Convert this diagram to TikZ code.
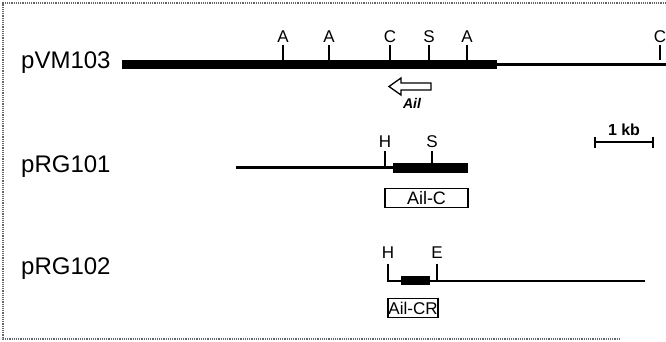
\documentclass[tikz,border=0pt]{standalone}
\usepackage{fontspec}
\setmainfont{Liberation Sans}
\begin{document}
\begin{tikzpicture}[x=1pt,y=-1pt,
  plasmid/.style={font=\fontsize{24}{26}\selectfont, anchor=west, inner sep=0pt},
  site/.style={font=\fontsize{17}{19}\selectfont, inner sep=0pt},
  vector/.style={line width=2.4pt},
  insert/.style={line width=9.5pt},
  tickmark/.style={line width=1.4pt},
  genebox/.style={draw, line width=1.1pt, inner sep=0pt, minimum height=19pt},
  frame/.style={black!60, line width=1.2pt, densely dotted}]
\useasboundingbox (0,0) rectangle (666,342);

% dotted frame (open on the right)
\draw[frame] (666,3) -- (3,3) -- (3,339) -- (620,339);

% ---------- pVM103 ----------
\node[plasmid] (lab1) at (21,63) {pVM103};
\coordinate (v1a) at (122,64.5);
\coordinate (v1b) at (497,64.5);
\coordinate (v1c) at (666,64.5);
\draw[insert] (v1a) -- (v1b);
\draw[vector] (v1b) -- (v1c);
\foreach \nm/\xx/\lt in {a1/283/A, a2/329/A, c1/390/C, s1/429/S, a3/467/A, c2/660/C}{
  \coordinate (t\nm) at (\xx,60);
  \node[site] (l\nm) at (\xx,37) {\lt};
  \draw[tickmark] (t\nm) -- (\xx,45);
}
% Ail gene direction arrow
\draw[line width=1.3pt, line join=miter]
  (389,86.5) -- (401,78) -- (401,83) -- (431,83) -- (431,90) -- (401,90) -- (401,95) -- cycle;
\node[font=\fontsize{14}{16}\selectfont\bfseries\itshape, inner sep=0pt] (ail) at (412,103) {Ail};

% scale bar
\coordinate (sb1) at (595,142);
\coordinate (sb2) at (653,142);
\draw[line width=1.8pt] (sb1) -- (sb2);
\draw[line width=1.8pt] (595,136.5) -- (595,147.5) (653,136.5) -- (653,147.5);
\node[font=\fontsize{16}{18}\selectfont\bfseries, inner sep=0pt] (kb) at (624,130) {1 kb};

% ---------- pRG101 ----------
\node[plasmid] (lab2) at (21,167) {pRG101};
\coordinate (v2a) at (236,167.5);
\coordinate (v2b) at (393,167.5);
\coordinate (v2c) at (468,168);
\draw[vector] (v2a) -- (v2b);
\draw[insert] (393,168) -- (v2c);
\coordinate (h2) at (385,166);
\draw[tickmark] (h2) -- (385,151);
\node[site] (lh2) at (385,142) {H};
\coordinate (s2) at (432,163);
\draw[tickmark] (s2) -- (432,151);
\node[site] (ls2) at (432,142) {S};
\node[genebox, minimum width=83pt, font=\fontsize{18}{20}\selectfont] (ailc) at (426.5,198) {Ail-C};

% ---------- pRG102 ----------
\node[plasmid] (lab3) at (21,269) {pRG102};
\coordinate (h3top) at (388,264);
\coordinate (h3) at (388,281);
\coordinate (v3end) at (645,281);
\draw[vector] (h3top) -- (h3) -- (v3end);
\draw[insert] (401,280.5) -- (430,280.5);
\coordinate (e3) at (437,281);
\draw[tickmark] (e3) -- (437,264);
\node[site] (lh3) at (388,253) {H};
\node[site] (le3) at (437,253) {E};
\node[genebox, minimum width=50pt, font=\fontsize{17}{19}\selectfont] (ailcr) at (413,308) {Ail-CR};
\end{tikzpicture}
\end{document}
